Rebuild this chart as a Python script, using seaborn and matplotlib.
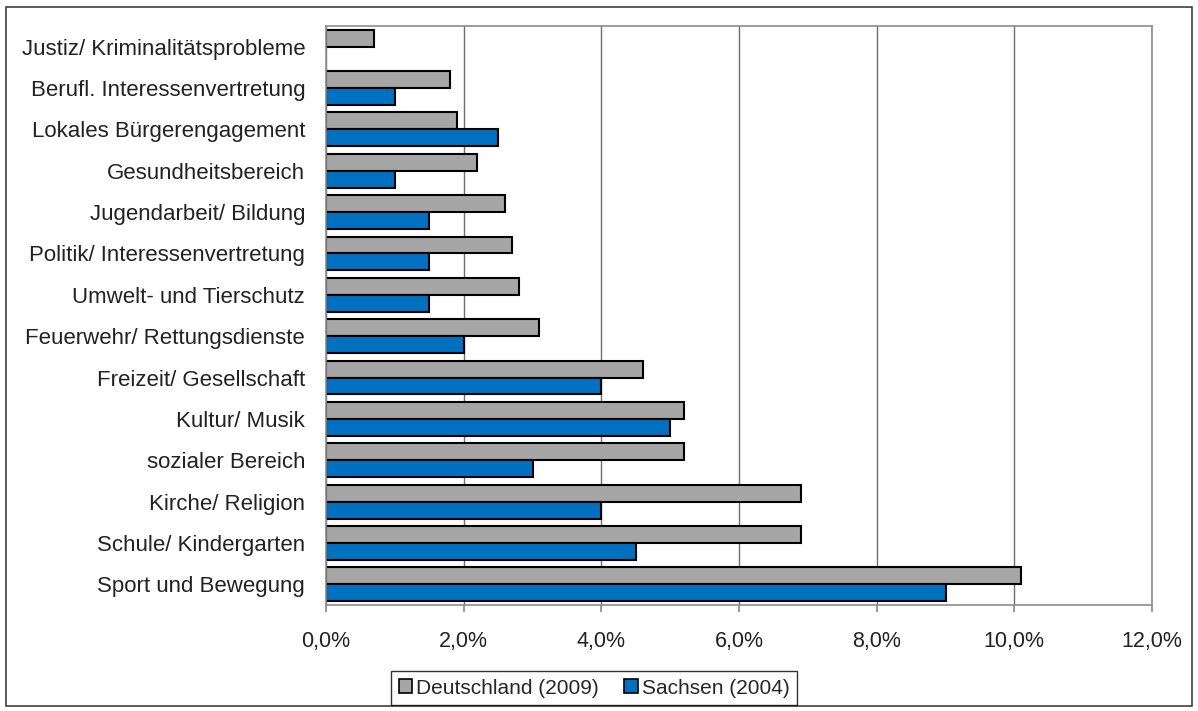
import matplotlib
matplotlib.use("Agg")
import matplotlib.pyplot as plt
import seaborn as sns
import pandas as pd
import numpy as np
from matplotlib.patches import Patch, Rectangle
from matplotlib.ticker import FuncFormatter

categories = [
    "Justiz/ Kriminalitätsprobleme",
    "Berufl. Interessenvertretung",
    "Lokales Bürgerengagement",
    "Gesundheitsbereich",
    "Jugendarbeit/ Bildung",
    "Politik/ Interessenvertretung",
    "Umwelt- und Tierschutz",
    "Feuerwehr/ Rettungsdienste",
    "Freizeit/ Gesellschaft",
    "Kultur/ Musik",
    "sozialer Bereich",
    "Kirche/ Religion",
    "Schule/ Kindergarten",
    "Sport und Bewegung",
]
deutschland_2009 = [0.7, 1.8, 1.9, 2.2, 2.6, 2.7, 2.8, 3.1, 4.6, 5.2, 5.2, 6.9, 6.9, 10.1]
sachsen_2004 = [np.nan, 1.0, 2.5, 1.0, 1.5, 1.5, 1.5, 2.0, 4.0, 5.0, 3.0, 4.0, 4.5, 9.0]
series_names = ["Deutschland (2009)", "Sachsen (2004)"]
colors = ["#A6A6A6", "#0070C0"]

df = pd.DataFrame({
    "Bereich": categories * 2,
    "Wert": deutschland_2009 + sachsen_2004,
    "Serie": [series_names[0]] * len(categories) + [series_names[1]] * len(categories),
})

sns.set_theme(style="white")
plt.rcParams["font.family"] = ["Liberation Sans", "DejaVu Sans"]

fig = plt.figure(figsize=(11.98, 7.11), dpi=100)
ax = fig.add_axes([326 / 1198, 1 - 605 / 711, (1152 - 326) / 1198, (605 - 26) / 711])

sns.barplot(data=df, y="Bereich", x="Wert", hue="Serie", order=categories,
            hue_order=series_names, palette=colors, orient="h", width=0.82,
            edgecolor="black", linewidth=1.5, saturation=1, ax=ax, legend=False,
            errorbar=None)

ax.set_xlim(0, 12)
ax.set_xticks(np.arange(0, 12.01, 2))
ax.xaxis.set_major_formatter(FuncFormatter(lambda v, p: f"{v:.1f}%".replace(".", ",")))
ax.xaxis.grid(True, color="#6F6F6F", linewidth=1)
ax.yaxis.grid(False)
ax.set_axisbelow(True)
ax.set_xlabel("")
ax.set_ylabel("")
for s in ax.spines.values():
    s.set_color("#8C8C8C")
    s.set_linewidth(1.2)
ax.tick_params(axis="x", which="major", bottom=True, length=5, color="#8C8C8C",
               labelsize=15.5, pad=14, labelcolor="#222222")
ax.tick_params(axis="y", left=False, length=0, labelsize=16, pad=15, labelcolor="#222222")

handles = [Patch(facecolor=c, edgecolor="black", linewidth=1.2) for c in colors]
leg = fig.legend(handles, series_names, loc="center", bbox_to_anchor=(594 / 1198, 1 - 688 / 711),
                 ncol=2, frameon=True, fancybox=False, edgecolor="black", fontsize=15,
                 handlelength=0.65, handleheight=0.65, handletextpad=0.2, columnspacing=1.2,
                 borderpad=0.35)
leg.get_frame().set_linewidth(1.0)

fig.patches.append(Rectangle((6 / 1198, 5 / 711), 1 - 12 / 1198, 1 - 12 / 711,
                             transform=fig.transFigure, fill=False, edgecolor="#404040",
                             linewidth=1.2))

fig.savefig("out.png", dpi=100)
